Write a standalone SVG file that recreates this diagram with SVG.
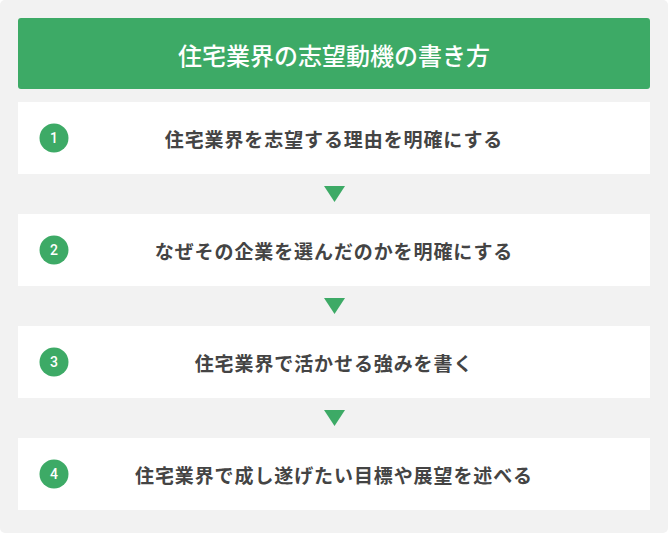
<svg xmlns="http://www.w3.org/2000/svg" width="668" height="533" viewBox="0 0 668 533">
  <style>
    .bg { fill: #f2f2f2; }
    .header { fill: #3daa66; }
    .box { fill: #ffffff; }
    .badge { fill: #3daa66; }
    .arrow { fill: #3daa66; }
    .title { font-family: "Noto Sans CJK JP", "Noto Sans", sans-serif; font-size: 24px; font-weight: 500; fill: #ffffff; text-anchor: middle; dominant-baseline: central; }
    .label { font-family: "Noto Sans CJK JP", "Noto Sans", sans-serif; font-size: 19px; font-weight: 700; fill: #444444; text-anchor: middle; dominant-baseline: central; letter-spacing: 0.9px; }
    .num { font-family: "Roboto", "Liberation Sans", sans-serif; font-size: 14px; font-weight: 500; fill: #ffffff; text-anchor: middle; dominant-baseline: central; }
  </style>
  <rect class="bg" x="0" y="0" width="668" height="533" rx="5"/>
  <g id="header">
    <rect class="header" x="18" y="18" width="632" height="71" rx="3"/>
    <text class="title" x="334" y="54">住宅業界の志望動機の書き方</text>
  </g>
  <g id="connectors">
    <polygon class="arrow" points="324,186 345,186 334.5,202"/>
    <polygon class="arrow" points="324,298 345,298 334.5,314"/>
    <polygon class="arrow" points="324,410 345,410 334.5,426"/>
  </g>
  <g id="step1">
    <rect class="box" x="18" y="102" width="632" height="72"/>
    <circle class="badge" cx="54" cy="138" r="14.5"/>
    <text class="num" x="54" y="138">1</text>
    <text class="label" x="334" y="138">住宅業界を志望する理由を明確にする</text>
  </g>
  <g id="step2">
    <rect class="box" x="18" y="214" width="632" height="72"/>
    <circle class="badge" cx="54" cy="250" r="14.5"/>
    <text class="num" x="54" y="250">2</text>
    <text class="label" x="334" y="250">なぜその企業を選んだのかを明確にする</text>
  </g>
  <g id="step3">
    <rect class="box" x="18" y="326" width="632" height="72"/>
    <circle class="badge" cx="54" cy="362" r="14.5"/>
    <text class="num" x="54" y="362">3</text>
    <text class="label" x="334" y="362">住宅業界で活かせる強みを書く</text>
  </g>
  <g id="step4">
    <rect class="box" x="18" y="438" width="632" height="72"/>
    <circle class="badge" cx="54" cy="474" r="14.5"/>
    <text class="num" x="54" y="474">4</text>
    <text class="label" x="334" y="474">住宅業界で成し遂げたい目標や展望を述べる</text>
  </g>
</svg>
